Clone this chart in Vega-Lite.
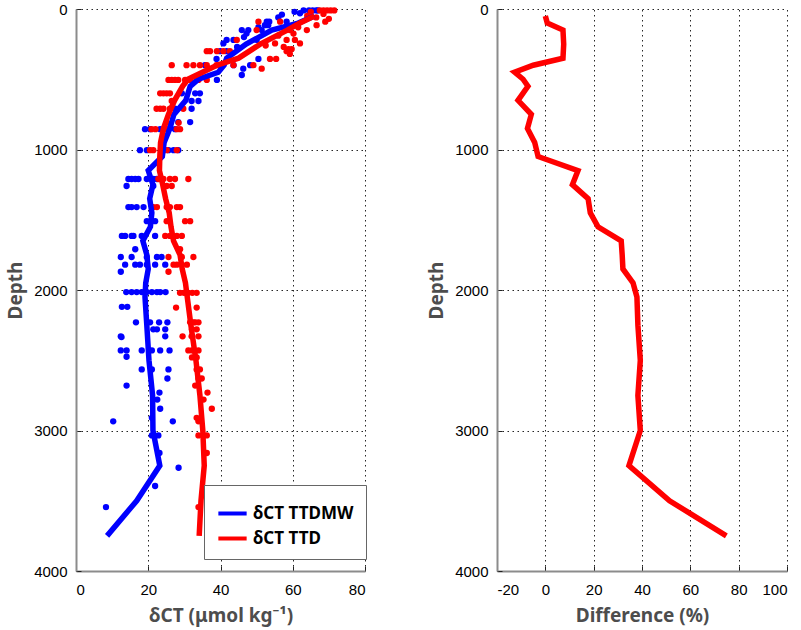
{
"$schema": "https://vega.github.io/schema/vega-lite/v6.json",
"background": "white",
"padding": {"left": 6, "top": 2, "right": 5, "bottom": 5},
"spacing": 61,
"config": {
  "view": {"stroke": null},
  "axis": {
    "labelFont": "Liberation Sans", "labelFontSize": 15, "labelColor": "#000",
    "titleFont": "Noto Sans", "titleFontSize": 19, "titleFontWeight": "bold", "titleColor": "#4d4d4d",
    "domainColor": "#8c8c8c", "domainWidth": 2, "ticks": true, "tickSize": -5, "tickColor": "#222", "tickWidth": 1,
    "gridColor": "#000", "gridDash": [1.5, 3.5], "gridWidth": 1, "gridOpacity": 0.85,
    "labelPadding": 14,
    "labelExpr": "toString(datum.value)"
  },
  "axisX": {"labelPadding": 16, "titlePadding": 9}
},
"datasets": {
  "obs": [
    {"s":"MW","d":10,"v":63},{"s":"MW","d":10,"v":64.5},{"s":"MW","d":10,"v":65.5},{"s":"MW","d":10,"v":66.5},{"s":"MW","d":10,"v":67},
    {"s":"MW","d":20,"v":60.5},{"s":"MW","d":30,"v":62},{"s":"MW","d":40,"v":57},{"s":"MW","d":60,"v":56},
    {"s":"MW","d":90,"v":52.8},{"s":"MW","d":90,"v":53.5},{"s":"MW","d":90,"v":58.3},
    {"s":"MW","d":115,"v":52.3},{"s":"MW","d":115,"v":53.2},{"s":"MW","d":130,"v":50.5},
    {"s":"MW","d":150,"v":45.9},{"s":"MW","d":150,"v":47.7},{"s":"MW","d":150,"v":51.4},
    {"s":"MW","d":175,"v":47.2},{"s":"MW","d":200,"v":46.5},
    {"s":"MW","d":220,"v":41.7},{"s":"MW","d":220,"v":43.6},{"s":"MW","d":220,"v":50},
    {"s":"MW","d":245,"v":40.8},{"s":"MW","d":270,"v":44.6},
    {"s":"MW","d":300,"v":39.9},{"s":"MW","d":300,"v":41.7},
    {"s":"MW","d":355,"v":38.9},{"s":"MW","d":355,"v":50.5},
    {"s":"MW","d":400,"v":35.7},{"s":"MW","d":400,"v":39.9},{"s":"MW","d":400,"v":43.6},{"s":"MW","d":400,"v":48.2},
    {"s":"MW","d":425,"v":46.3},
    {"s":"MW","d":470,"v":45.9},
    {"s":"MW","d":505,"v":33.4},{"s":"MW","d":505,"v":39},
    {"s":"MW","d":600,"v":29.3},{"s":"MW","d":600,"v":33},{"s":"MW","d":600,"v":34.3},
    {"s":"MW","d":655,"v":32},{"s":"MW","d":655,"v":33.9},
    {"s":"MW","d":710,"v":27.4},{"s":"MW","d":710,"v":32},
    {"s":"MW","d":805,"v":28.3},{"s":"MW","d":805,"v":31.6},
    {"s":"MW","d":855,"v":19.1},{"s":"MW","d":855,"v":20.5},{"s":"MW","d":855,"v":23.3},{"s":"MW","d":855,"v":25.6},{"s":"MW","d":855,"v":27.4},
    {"s":"MW","d":1005,"v":17.7},{"s":"MW","d":1005,"v":19.6},{"s":"MW","d":1005,"v":25.6},{"s":"MW","d":1005,"v":27},{"s":"MW","d":1005,"v":28.3},
    {"s":"MW","d":1210,"v":14.5},{"s":"MW","d":1210,"v":15.4},{"s":"MW","d":1210,"v":16.4},{"s":"MW","d":1210,"v":17.3},{"s":"MW","d":1210,"v":19.6},{"s":"MW","d":1210,"v":21.4},{"s":"MW","d":1210,"v":22.4},
    {"s":"MW","d":1260,"v":14},{"s":"MW","d":1260,"v":21.4},
    {"s":"MW","d":1410,"v":14.5},{"s":"MW","d":1410,"v":15.4},{"s":"MW","d":1410,"v":16.8},{"s":"MW","d":1410,"v":18.7},
    {"s":"MW","d":1510,"v":19.6},{"s":"MW","d":1510,"v":21.9},
    {"s":"MW","d":1615,"v":12.7},{"s":"MW","d":1615,"v":13.6},{"s":"MW","d":1615,"v":15.4},{"s":"MW","d":1615,"v":15.9},{"s":"MW","d":1615,"v":18.2},{"s":"MW","d":1615,"v":21.9},
    {"s":"MW","d":1710,"v":16.4},
    {"s":"MW","d":1765,"v":12.4},{"s":"MW","d":1765,"v":15.4},{"s":"MW","d":1765,"v":19.6},{"s":"MW","d":1765,"v":22.4},{"s":"MW","d":1765,"v":23.7},
    {"s":"MW","d":1820,"v":13.6},{"s":"MW","d":1820,"v":16.4},{"s":"MW","d":1820,"v":17.7},{"s":"MW","d":1820,"v":19.6},{"s":"MW","d":1820,"v":21.9},{"s":"MW","d":1820,"v":24.7},
    {"s":"MW","d":1870,"v":12.4},
    {"s":"MW","d":2015,"v":13.9},{"s":"MW","d":2015,"v":15.4},{"s":"MW","d":2015,"v":16.8},{"s":"MW","d":2015,"v":18.2},{"s":"MW","d":2015,"v":19.6},{"s":"MW","d":2015,"v":21},{"s":"MW","d":2015,"v":22.4},{"s":"MW","d":2015,"v":23.3},{"s":"MW","d":2015,"v":24.8},
    {"s":"MW","d":2120,"v":12.7},{"s":"MW","d":2120,"v":14.2},
    {"s":"MW","d":2230,"v":16.6},{"s":"MW","d":2230,"v":20.5},{"s":"MW","d":2230,"v":23},{"s":"MW","d":2230,"v":25.3},
    {"s":"MW","d":2280,"v":21.4},{"s":"MW","d":2280,"v":22.4},{"s":"MW","d":2280,"v":24.7},
    {"s":"MW","d":2330,"v":12.4},{"s":"MW","d":2335,"v":12.6},{"s":"MW","d":2330,"v":24.7},
    {"s":"MW","d":2430,"v":12.4},{"s":"MW","d":2430,"v":14},{"s":"MW","d":2430,"v":18.2},{"s":"MW","d":2430,"v":21},{"s":"MW","d":2430,"v":23.3},{"s":"MW","d":2430,"v":25.9},
    {"s":"MW","d":2475,"v":14},
    {"s":"MW","d":2565,"v":18.2},{"s":"MW","d":2565,"v":21},{"s":"MW","d":2565,"v":25.6},
    {"s":"MW","d":2630,"v":25.3},
    {"s":"MW","d":2680,"v":14},
    {"s":"MW","d":2730,"v":23.1},
    {"s":"MW","d":2780,"v":22.5},
    {"s":"MW","d":2845,"v":23.3},
    {"s":"MW","d":2910,"v":21},
    {"s":"MW","d":2935,"v":10.3},{"s":"MW","d":2935,"v":26.8},
    {"s":"MW","d":3035,"v":21},{"s":"MW","d":3035,"v":22.8},
    {"s":"MW","d":3160,"v":23.1},
    {"s":"MW","d":3265,"v":28.4},
    {"s":"MW","d":3395,"v":21.9},
    {"s":"MW","d":3545,"v":8.3},
    {"s":"TTD","d":10,"v":67.5},{"s":"TTD","d":10,"v":68.5},{"s":"TTD","d":10,"v":69.5},{"s":"TTD","d":10,"v":70.5},{"s":"TTD","d":10,"v":71.5},
    {"s":"TTD","d":20,"v":65},{"s":"TTD","d":35,"v":68.5},{"s":"TTD","d":50,"v":64},{"s":"TTD","d":60,"v":66.5},{"s":"TTD","d":70,"v":70},
    {"s":"TTD","d":90,"v":50.5},{"s":"TTD","d":90,"v":56.5},{"s":"TTD","d":90,"v":69},
    {"s":"TTD","d":115,"v":66.6},{"s":"TTD","d":130,"v":61.5},
    {"s":"TTD","d":150,"v":50},{"s":"TTD","d":150,"v":59.2},{"s":"TTD","d":150,"v":63.9},
    {"s":"TTD","d":175,"v":60.2},{"s":"TTD","d":190,"v":56},
    {"s":"TTD","d":220,"v":44.5},{"s":"TTD","d":220,"v":58.3},{"s":"TTD","d":220,"v":60.6},
    {"s":"TTD","d":245,"v":55.1},{"s":"TTD","d":245,"v":62},{"s":"TTD","d":260,"v":52.5},{"s":"TTD","d":270,"v":57.5},
    {"s":"TTD","d":285,"v":58.8},{"s":"TTD","d":285,"v":59.7},
    {"s":"TTD","d":300,"v":36.2},{"s":"TTD","d":300,"v":37.1},{"s":"TTD","d":300,"v":39},{"s":"TTD","d":300,"v":40.8},{"s":"TTD","d":300,"v":42.6},{"s":"TTD","d":300,"v":58.3},
    {"s":"TTD","d":320,"v":59.2},
    {"s":"TTD","d":355,"v":53.7},{"s":"TTD","d":355,"v":55.4},
    {"s":"TTD","d":400,"v":26.5},{"s":"TTD","d":400,"v":30.6},{"s":"TTD","d":400,"v":32.5},{"s":"TTD","d":400,"v":34.3},{"s":"TTD","d":400,"v":36.2},{"s":"TTD","d":400,"v":38.9},{"s":"TTD","d":400,"v":43.6},{"s":"TTD","d":400,"v":49.1},
    {"s":"TTD","d":425,"v":51.4},
    {"s":"TTD","d":505,"v":25.6},{"s":"TTD","d":505,"v":26.5},{"s":"TTD","d":505,"v":27.4},{"s":"TTD","d":505,"v":28.3},{"s":"TTD","d":505,"v":30.2},{"s":"TTD","d":505,"v":31.6},{"s":"TTD","d":505,"v":33.9},{"s":"TTD","d":505,"v":36.2},
    {"s":"TTD","d":600,"v":23.3},{"s":"TTD","d":600,"v":24.2},{"s":"TTD","d":600,"v":25.1},{"s":"TTD","d":600,"v":26},
    {"s":"TTD","d":655,"v":26.5},
    {"s":"TTD","d":710,"v":22.3},{"s":"TTD","d":710,"v":23.3},{"s":"TTD","d":710,"v":24.2},{"s":"TTD","d":710,"v":26},{"s":"TTD","d":710,"v":29.7},
    {"s":"TTD","d":810,"v":25.1},{"s":"TTD","d":810,"v":28.4},
    {"s":"TTD","d":855,"v":20.9},{"s":"TTD","d":855,"v":22},{"s":"TTD","d":855,"v":24.9},{"s":"TTD","d":855,"v":27.9},{"s":"TTD","d":855,"v":28.8},
    {"s":"TTD","d":1005,"v":20.5},{"s":"TTD","d":1005,"v":21.4},{"s":"TTD","d":1005,"v":23.7},{"s":"TTD","d":1005,"v":25.1},{"s":"TTD","d":1005,"v":27.9},
    {"s":"TTD","d":1210,"v":22.8},{"s":"TTD","d":1210,"v":24.2},{"s":"TTD","d":1210,"v":26},{"s":"TTD","d":1210,"v":27.4},{"s":"TTD","d":1210,"v":31.1},
    {"s":"TTD","d":1260,"v":25.1},{"s":"TTD","d":1260,"v":26.5},
    {"s":"TTD","d":1410,"v":21.4},{"s":"TTD","d":1410,"v":22.4},{"s":"TTD","d":1410,"v":25.1},{"s":"TTD","d":1410,"v":26},{"s":"TTD","d":1410,"v":27.9},{"s":"TTD","d":1410,"v":28.8},
    {"s":"TTD","d":1510,"v":25.1},{"s":"TTD","d":1510,"v":30.2},{"s":"TTD","d":1510,"v":31.6},
    {"s":"TTD","d":1615,"v":24.7},{"s":"TTD","d":1615,"v":26},{"s":"TTD","d":1615,"v":27.9},{"s":"TTD","d":1615,"v":29.3},
    {"s":"TTD","d":1710,"v":28.8},
    {"s":"TTD","d":1765,"v":25.6},{"s":"TTD","d":1765,"v":29.3},{"s":"TTD","d":1765,"v":32.5},
    {"s":"TTD","d":1820,"v":27},{"s":"TTD","d":1820,"v":27.9},{"s":"TTD","d":1820,"v":30.7},
    {"s":"TTD","d":1870,"v":25.6},
    {"s":"TTD","d":2020,"v":28.8},{"s":"TTD","d":2020,"v":29.9},{"s":"TTD","d":2020,"v":31.1},{"s":"TTD","d":2020,"v":32.2},{"s":"TTD","d":2020,"v":33.4},
    {"s":"TTD","d":2125,"v":27.7},{"s":"TTD","d":2125,"v":33.4},
    {"s":"TTD","d":2230,"v":31.6},{"s":"TTD","d":2230,"v":32.5},{"s":"TTD","d":2230,"v":33},{"s":"TTD","d":2230,"v":33.9},
    {"s":"TTD","d":2280,"v":32.1},{"s":"TTD","d":2280,"v":33.4},
    {"s":"TTD","d":2330,"v":29.5},{"s":"TTD","d":2330,"v":32},{"s":"TTD","d":2330,"v":33.9},
    {"s":"TTD","d":2430,"v":31.1},{"s":"TTD","d":2430,"v":32.1},{"s":"TTD","d":2430,"v":33.9},
    {"s":"TTD","d":2480,"v":32.1},{"s":"TTD","d":2480,"v":33.4},
    {"s":"TTD","d":2565,"v":33.4},{"s":"TTD","d":2565,"v":34.3},
    {"s":"TTD","d":2630,"v":33.9},{"s":"TTD","d":2630,"v":34.8},
    {"s":"TTD","d":2680,"v":33},
    {"s":"TTD","d":2730,"v":36.4},
    {"s":"TTD","d":2780,"v":35.3},
    {"s":"TTD","d":2845,"v":37.6},
    {"s":"TTD","d":2910,"v":33.4},
    {"s":"TTD","d":2935,"v":33.9},
    {"s":"TTD","d":3035,"v":33.9},{"s":"TTD","d":3035,"v":36.2},
    {"s":"TTD","d":3160,"v":36.2},
    {"s":"TTD","d":3545,"v":33.9}
  ],
  "prof": [
    {"s":"MW","d":50,"v":66},{"s":"MW","d":100,"v":61.5},{"s":"MW","d":150,"v":54.2},{"s":"MW","d":250,"v":47.1},{"s":"MW","d":350,"v":41.7},{"s":"MW","d":400,"v":41},{"s":"MW","d":450,"v":39.4},{"s":"MW","d":500,"v":33.9},{"s":"MW","d":550,"v":31.6},{"s":"MW","d":650,"v":30.4},{"s":"MW","d":750,"v":27.1},{"s":"MW","d":850,"v":26},{"s":"MW","d":950,"v":24.4},{"s":"MW","d":1050,"v":23.9},{"s":"MW","d":1150,"v":20},{"s":"MW","d":1250,"v":21.3},{"s":"MW","d":1350,"v":20.4},{"s":"MW","d":1450,"v":21},{"s":"MW","d":1550,"v":20.6},{"s":"MW","d":1650,"v":18.5},{"s":"MW","d":1750,"v":19.6},{"s":"MW","d":1850,"v":20},{"s":"MW","d":1950,"v":19.3},{"s":"MW","d":2050,"v":19.1},{"s":"MW","d":2250,"v":19.6},{"s":"MW","d":2500,"v":20.2},{"s":"MW","d":2750,"v":21.2},{"s":"MW","d":3000,"v":21.3},{"s":"MW","d":3250,"v":23.2},{"s":"MW","d":3500,"v":16.8},{"s":"MW","d":3750,"v":8.6},
    {"s":"TTD","d":50,"v":66},{"s":"TTD","d":100,"v":62},{"s":"TTD","d":150,"v":58.5},{"s":"TTD","d":250,"v":51},{"s":"TTD","d":350,"v":45},{"s":"TTD","d":400,"v":39},{"s":"TTD","d":450,"v":35},{"s":"TTD","d":500,"v":31},{"s":"TTD","d":550,"v":29.5},{"s":"TTD","d":650,"v":27.3},{"s":"TTD","d":750,"v":25.6},{"s":"TTD","d":850,"v":24.2},{"s":"TTD","d":950,"v":23.4},{"s":"TTD","d":1050,"v":23.2},{"s":"TTD","d":1150,"v":23.1},{"s":"TTD","d":1250,"v":24},{"s":"TTD","d":1350,"v":24.8},{"s":"TTD","d":1450,"v":25.8},{"s":"TTD","d":1550,"v":26.3},{"s":"TTD","d":1650,"v":27},{"s":"TTD","d":1750,"v":28.8},{"s":"TTD","d":1850,"v":29.4},{"s":"TTD","d":1950,"v":30.3},{"s":"TTD","d":2050,"v":30.8},{"s":"TTD","d":2250,"v":31.8},{"s":"TTD","d":2500,"v":33.2},{"s":"TTD","d":2750,"v":34.3},{"s":"TTD","d":3000,"v":35.1},{"s":"TTD","d":3250,"v":35.5},{"s":"TTD","d":3500,"v":34.6},{"s":"TTD","d":3750,"v":34.1}
  ],
  "diff": [
    {"d":50,"p":0},{"d":100,"p":0.8},{"d":150,"p":7.3},{"d":250,"p":7.6},{"d":350,"p":7.3},{"d":400,"p":-5},{"d":450,"p":-12.7},{"d":500,"p":-9.2},{"d":550,"p":-7.2},{"d":650,"p":-11.3},{"d":750,"p":-5.8},{"d":850,"p":-7.4},{"d":950,"p":-4.4},{"d":1050,"p":-3},{"d":1150,"p":13.5},{"d":1250,"p":11.2},{"d":1350,"p":17.7},{"d":1450,"p":18.6},{"d":1550,"p":21.8},{"d":1650,"p":31.4},{"d":1750,"p":31.8},{"d":1850,"p":32.1},{"d":1950,"p":36.3},{"d":2050,"p":37.9},{"d":2250,"p":38.3},{"d":2500,"p":39.3},{"d":2750,"p":38.3},{"d":3000,"p":39.3},{"d":3250,"p":34.6},{"d":3500,"p":51.4},{"d":3750,"p":74.9}
  ]
},
"hconcat": [
  {
    "width": 289, "height": 562,
    "layer": [
      {
        "data": {"name": "obs"},
        "mark": {"type": "circle", "size": 40, "opacity": 1},
        "encoding": {
          "x": {"field": "v", "type": "quantitative", "scale": {"domain": [0, 80], "nice": false},
                "axis": {"values": [0, 20, 40, 60, 80], "title": "δCT (μmol kg⁻¹)"}},
          "y": {"field": "d", "type": "quantitative", "scale": {"domain": [0, 4000], "reverse": true, "nice": false},
                "axis": {"values": [0, 1000, 2000, 3000, 4000], "title": "Depth", "titlePadding": 8}},
          "color": {"field": "s", "type": "nominal",
                    "scale": {"domain": ["MW", "TTD"], "range": ["#0000ff", "#ff0000"]},
                    "legend": {"orient": "none", "legendX": 128, "legendY": 476, "title": null,
                               "symbolType": "stroke", "symbolStrokeWidth": 4, "symbolSize": 800,
                               "labelFont": "Noto Sans", "labelFontSize": 17, "labelFontWeight": "bold", "labelColor": "#000",
                               "strokeColor": "#666", "fillColor": "white", "padding": 12, "rowPadding": 0,
                               "labelExpr": "datum.label == 'MW' ? 'δCT TTDMW' : 'δCT TTD'"}}
        }
      },
      {
        "data": {"name": "prof"},
        "mark": {"type": "line", "strokeWidth": 5.5},
        "encoding": {
          "x": {"field": "v", "type": "quantitative"},
          "y": {"field": "d", "type": "quantitative"},
          "order": {"field": "d", "type": "quantitative"},
          "color": {"field": "s", "type": "nominal"}
        }
      }
    ]
  },
  {
    "width": 290, "height": 562,
    "data": {"name": "diff"},
    "mark": {"type": "line", "strokeWidth": 5.5, "color": "#ff0000"},
    "encoding": {
      "x": {"field": "p", "type": "quantitative", "scale": {"domain": [-20, 100], "nice": false},
            "axis": {"values": [-20, 0, 20, 40, 60, 80, 100], "title": "Difference (%)"}},
      "y": {"field": "d", "type": "quantitative", "scale": {"domain": [0, 4000], "reverse": true, "nice": false},
            "axis": {"values": [0, 1000, 2000, 3000, 4000], "title": "Depth", "titlePadding": 8}},
      "order": {"field": "d", "type": "quantitative"}
    }
  }
]
}
